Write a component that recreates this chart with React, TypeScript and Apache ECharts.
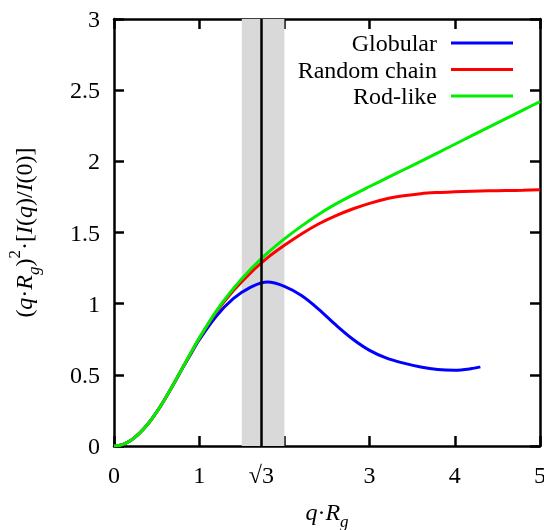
import React, { useEffect, useRef } from "react";
import * as echarts from "echarts";

// ---- data ----
const qGlobular = [0, 0.1, 0.2, 0.3, 0.4, 0.5, 0.6, 0.7, 0.8, 0.9, 1.0, 1.2, 1.4, 1.6, 1.8, 2.0, 2.2, 2.4, 2.6, 2.8, 3.0, 3.2, 3.4, 3.6, 3.8, 4.0, 4.2, 4.3];
const globular = [0, 0.01, 0.04, 0.09, 0.156, 0.238, 0.332, 0.435, 0.542, 0.645, 0.745, 0.912, 1.035, 1.115, 1.152, 1.122, 1.057, 0.962, 0.852, 0.752, 0.672, 0.617, 0.582, 0.555, 0.538, 0.533, 0.544, 0.556];

const qLong = [0, 0.1, 0.2, 0.3, 0.4, 0.5, 0.6, 0.7, 0.8, 0.9, 1.0, 1.2, 1.4, 1.6, 1.8, 2.0, 2.2, 2.4, 2.6, 2.8, 3.0, 3.2, 3.4, 3.6, 3.8, 4.0, 4.2, 4.4, 4.6, 4.8, 5.0];
const randomChain = [0, 0.01, 0.04, 0.09, 0.156, 0.238, 0.332, 0.436, 0.544, 0.651, 0.755, 0.94, 1.09, 1.215, 1.322, 1.41, 1.49, 1.56, 1.617, 1.665, 1.705, 1.737, 1.758, 1.773, 1.781, 1.786, 1.79, 1.793, 1.795, 1.797, 1.8];
const rodLike = [0, 0.01, 0.04, 0.09, 0.156, 0.238, 0.332, 0.436, 0.545, 0.653, 0.758, 0.948, 1.105, 1.24, 1.355, 1.455, 1.545, 1.627, 1.699, 1.763, 1.823, 1.882, 1.941, 2.0, 2.06, 2.12, 2.18, 2.24, 2.3, 2.36, 2.42];

const seriesNames = ["Globular", "Random chain", "Rod-like"];
const seriesColors = ["#0000ff", "#ff0000", "#00ee00"];

const xTicks = [0, 1, 2, 3, 4, 5];
const xTickLabels = ["0", "1", "", "3", "4", "5"];
const markerX = Math.sqrt(3);
const markerLabel = "√3";
const bandRange = [1.5, 2.0];

const FONT = "'Liberation Serif', 'DejaVu Serif', serif";

export default function App() {
  const ref = useRef<HTMLDivElement>(null);
  useEffect(() => {
    if (!ref.current) return;
    const chart = echarts.init(ref.current, undefined, { renderer: "svg" });
    const pair = (xs: number[], ys: number[]) => xs.map((x, i) => [x, ys[i]]);
    const datasets = [pair(qGlobular, globular), pair(qLong, randomChain), pair(qLong, rodLike)];

    const axisCommon = {
      axisLine: { show: true, onZero: false, lineStyle: { color: "#000", width: 2.5 } },
      axisTick: { show: true, inside: true, length: 10, lineStyle: { color: "#000", width: 2.5 } },
      splitLine: { show: false },
    };

    const legendGraphics: any[] = [];
    seriesNames.forEach((name, i) => {
      const y = 43 + i * 26.5;
      legendGraphics.push({
        type: "text",
        x: 437,
        y,
        style: {
          text: name,
          font: "24px 'Liberation Serif', 'DejaVu Serif', serif",
          fill: "#000",
          align: "right",
          verticalAlign: "middle",
        },
      });
      legendGraphics.push({
        type: "line",
        shape: { x1: 451, y1: y, x2: 513, y2: y },
        style: { stroke: seriesColors[i], lineWidth: 3 },
      });
    });

    const yName =
      "{n|(}{i|q}{n|·}{i|R}{sub|g}{n|)}{sup|2}{n|·[}{i|I}{n|(}{i|q}{n|)/}{i|I}{n|(0)]}";
    const rich = {
      n: { fontFamily: FONT, fontSize: 24, color: "#000", lineHeight: 36, verticalAlign: "middle" },
      i: { fontFamily: FONT, fontSize: 24, fontStyle: "italic", color: "#000", lineHeight: 36, verticalAlign: "middle" },
      sub: { fontFamily: FONT, fontSize: 17, fontStyle: "italic", color: "#000", verticalAlign: "bottom", lineHeight: 17 },
      sup: { fontFamily: FONT, fontSize: 17, color: "#000", verticalAlign: "top", lineHeight: 17 },
    };

    chart.setOption({
      animation: false,
      grid: { left: 114, top: 19, right: 4, bottom: 84, containLabel: false, outerBoundsMode: "none" },
      xAxis: [
        {
          type: "value",
          min: 0,
          max: 5,
          interval: 1,
          position: "bottom",
          ...axisCommon,
          axisLabel: {
            fontFamily: FONT,
            fontSize: 24,
            color: "#000",
            margin: 17,
            formatter: (v: number) => xTickLabels[xTicks.indexOf(v)] ?? "",
          },
          name: "{i|q}{n|·}{i|R}{sub|g}",
          nameLocation: "middle",
          nameGap: 48,
          nameTextStyle: { rich },
        },
        {
          type: "value",
          min: 0,
          max: 5,
          interval: 1,
          position: "top",
          ...axisCommon,
          axisLabel: { show: false },
        },
      ],
      yAxis: [
        {
          type: "value",
          min: 0,
          max: 3,
          interval: 0.5,
          position: "left",
          ...axisCommon,
          axisLabel: { fontFamily: FONT, fontSize: 24, color: "#000", margin: 14 },
          name: yName,
          nameLocation: "middle",
          nameRotate: 90,
          nameGap: 72,
          nameTextStyle: { rich },
        },
        {
          type: "value",
          min: 0,
          max: 3,
          interval: 0.5,
          position: "right",
          ...axisCommon,
          axisLabel: { show: false },
        },
      ],
      series: [
        {
          type: "line",
          name: "band",
          data: [],
          z: 1,
          silent: true,
          markArea: {
            silent: true,
            itemStyle: { color: "#d9d9d9" },
            data: [[{ xAxis: bandRange[0] }, { xAxis: bandRange[1] }]],
          },
        },
        ...seriesNames.map((name, i) => ({
          type: "line",
          name,
          data: datasets[i],
          showSymbol: false,
          smooth: 0.35,
          z: 3,
          lineStyle: { color: seriesColors[i], width: 3 },
          itemStyle: { color: seriesColors[i] },
        })),
        {
          type: "line",
          name: "marker",
          data: [],
          z: 5,
          silent: true,
          markLine: {
            silent: true,
            symbol: "none",
            lineStyle: { color: "#000", width: 2.5, type: "solid" },
            label: {
              show: true,
              position: "start",
              formatter: markerLabel,
              fontFamily: FONT,
              fontSize: 24,
              color: "#000",
              distance: 17,
            },
            data: [{ xAxis: markerX }],
          },
        },
      ],
      graphic: legendGraphics,
    });
    return () => chart.dispose();
  }, []);
  return <div ref={ref} style={{ position: "fixed", left: 0, top: 0, width: 544, height: 530 }} />;
}
